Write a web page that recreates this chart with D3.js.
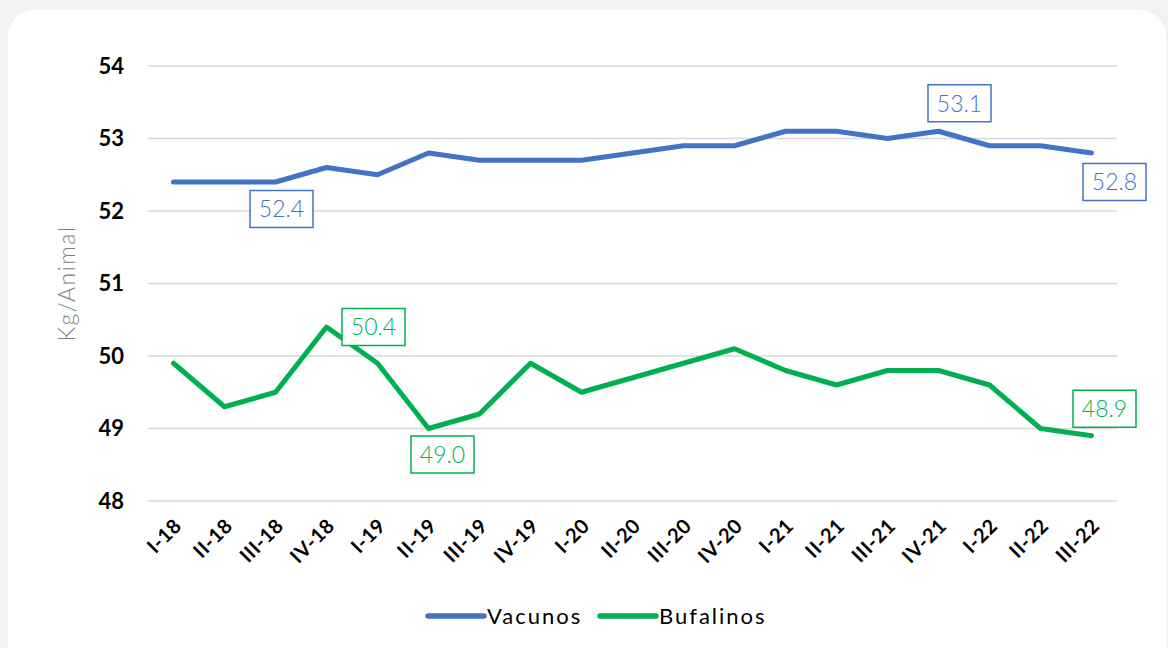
<!DOCTYPE html>
<html>
<head>
<meta charset="utf-8">
<script src="https://cdn.jsdelivr.net/npm/d3@7"></script>
<style>
  body { margin: 0; background: #f2f2f2; }
  svg { display: block; }
</style>
</head>
<body>
<svg width="1168" height="648"></svg>
<script>
// Data
const quarters = ['I-18','II-18','III-18','IV-18','I-19','II-19','III-19','IV-19','I-20','II-20',
                  'III-20','IV-20','I-21','II-21','III-21','IV-21','I-22','II-22','III-22'];
const vacunos = [52.4,52.4,52.4,52.6,52.5,52.8,52.7,52.7,52.7,52.8,52.9,52.9,53.1,53.1,53.0,53.1,52.9,52.9,52.8];
const bufalinos = [49.9,49.3,49.5,50.4,49.9,49.0,49.2,49.9,49.5,49.7,49.9,50.1,49.8,49.6,49.8,49.8,49.6,49.0,48.9];
const yTicks = [48,49,50,51,52,53,54];
// labelled points: series index, quarter index
const callouts = [
  { s: 0, i: 2 }, { s: 0, i: 15 }, { s: 0, i: 18 },
  { s: 1, i: 3 }, { s: 1, i: 5 }, { s: 1, i: 18 }
];

const series = [
  { name: 'Vacunos', values: vacunos, color: '#4472c4' },
  { name: 'Bufalinos', values: bufalinos, color: '#00b050' }
];

const font = "'Lato', 'Open Sans', sans-serif";
const svg = d3.select('svg');

// card
svg.append('rect')
  .attr('x', 8).attr('y', 10)
  .attr('width', 1158).attr('height', 665)
  .attr('rx', 26)
  .attr('fill', '#fff');

const plotLeft = 148, plotRight = 1117, plotTop = 66, plotBottom = 501;

const x = d3.scalePoint().domain(quarters).range([plotLeft, plotRight]).padding(0.5);
const y = d3.scaleLinear().domain([48, 54]).range([plotBottom, plotTop]);

// gridlines
svg.append('g')
  .selectAll('line')
  .data(yTicks)
  .join('line')
  .attr('x1', plotLeft).attr('x2', plotRight)
  .attr('y1', d => y(d)).attr('y2', d => y(d))
  .attr('stroke', '#d9d9d9')
  .attr('stroke-width', 1.5);

// y axis labels
const yAxis = svg.append('g')
  .attr('transform', `translate(${plotLeft - 24},0)`)
  .call(d3.axisLeft(y).tickValues(yTicks).tickSize(0).tickPadding(0).tickFormat(d3.format('d')));
yAxis.select('.domain').remove();
yAxis.selectAll('text')
  .attr('font-family', font)
  .attr('font-weight', 'bold')
  .attr('font-size', 22)
  .attr('fill', '#000');

// x axis labels
const xAxis = svg.append('g')
  .attr('transform', `translate(0,${plotBottom})`)
  .call(d3.axisBottom(x).tickSize(0).tickPadding(0));
xAxis.select('.domain').remove();
xAxis.selectAll('text')
  .attr('font-family', font)
  .attr('font-weight', 'bold')
  .attr('font-size', 20)
  .attr('letter-spacing', 0.6)
  .attr('fill', '#000')
  .attr('text-anchor', 'end')
  .attr('dy', 0)
  .attr('transform', 'translate(9,26) rotate(-45)');

// axis title
svg.append('text')
  .attr('transform', `translate(75,${(plotTop + plotBottom) / 2}) rotate(-90)`)
  .attr('text-anchor', 'middle')
  .attr('font-family', font)
  .attr('font-weight', 300)
  .attr('font-size', 23)
  .attr('letter-spacing', 1.5)
  .attr('fill', '#808080')
  .text('Kg/Animal');

// lines
const line = d3.line()
  .x((d, i) => x(quarters[i]))
  .y(d => y(d));

svg.append('g')
  .selectAll('path')
  .data(series)
  .join('path')
  .attr('d', d => line(d.values))
  .attr('fill', 'none')
  .attr('stroke', d => d.color)
  .attr('stroke-width', 5)
  .attr('stroke-linejoin', 'round')
  .attr('stroke-linecap', 'round');

// callout labels, box offset from its point
const boxW = 63, boxH = 37;
const boxOffset = {
  '0-2': [6, 27], '0-15': [21, -28], '0-18': [23, 29],
  '1-3': [47, 0], '1-5': [14, 26], '1-18': [13, -27]
};
const cg = svg.append('g')
  .selectAll('g')
  .data(callouts)
  .join('g')
  .attr('transform', d => {
    const px = x(quarters[d.i]), py = y(series[d.s].values[d.i]);
    const o = boxOffset[`${d.s}-${d.i}`];
    return `translate(${px + o[0]},${py + o[1]})`;
  });
cg.append('rect')
  .attr('x', -boxW / 2).attr('y', -boxH / 2)
  .attr('width', boxW).attr('height', boxH)
  .attr('fill', '#fff')
  .attr('stroke', d => series[d.s].color)
  .attr('stroke-width', 1.5);
cg.append('text')
  .attr('text-anchor', 'middle')
  .attr('dy', '0.36em')
  .attr('font-family', font)
  .attr('font-weight', 300)
  .attr('font-size', 23)
  .attr('fill', d => series[d.s].color)
  .text(d => d3.format('.1f')(series[d.s].values[d.i]));

// legend
const legend = svg.append('g').attr('transform', 'translate(428,616)');
const items = legend.selectAll('g')
  .data(series)
  .join('g')
  .attr('transform', (d, i) => `translate(${i * 172},0)`);
items.append('line')
  .attr('x1', 0).attr('x2', 56)
  .attr('stroke', d => d.color)
  .attr('stroke-width', 5.5)
  .attr('stroke-linecap', 'round');
items.append('text')
  .attr('x', 59)
  .attr('dy', '0.36em')
  .attr('font-family', font)
  .attr('font-weight', 400)
  .attr('font-size', 22)
  .attr('letter-spacing', 2)
  .attr('fill', '#000')
  .text(d => d.name);
</script>
</body>
</html>
